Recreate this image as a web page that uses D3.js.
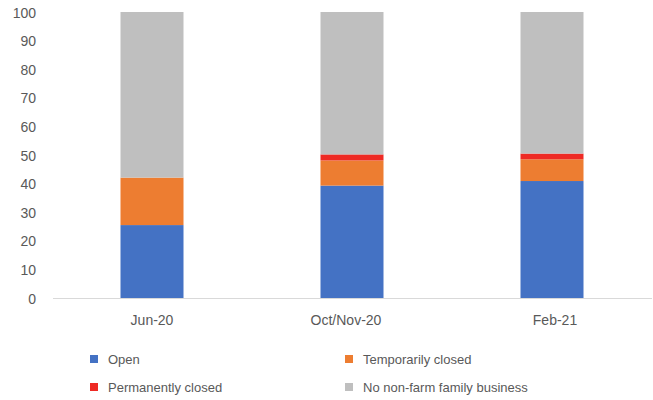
<!DOCTYPE html>
<html>
<head>
<meta charset="utf-8">
<script src="https://cdn.jsdelivr.net/npm/d3@7"></script>
<style>
  body { margin: 0; background: #fff; }
  svg text { font-family: "Liberation Sans", Arial, Helvetica, sans-serif; fill: #595959; }
</style>
</head>
<body>
<div id="chart"></div>
<script>
// chart data
const periods = ["Jun-20", "Oct/Nov-20", "Feb-21"];
const seriesNames = ["Open", "Temporarily closed", "Permanently closed", "No non-farm family business"];
const open = [25.5, 39.3, 40.9];
const tempClosed = [16.6, 8.8, 7.6];
const permClosed = [0, 2.1, 2.0];
const noBusiness = [57.9, 49.8, 49.5];
const yTicks = [0, 10, 20, 30, 40, 50, 60, 70, 80, 90, 100];
const colors = ["#4472c4", "#ed7d31", "#ee2a24", "#bfbfbf"];

const width = 653, height = 400;
const margin = { top: 12, right: 1, bottom: 102, left: 52 };

const svg = d3.select("#chart").append("svg")
  .attr("width", width)
  .attr("height", height);

const rows = periods.map((p, i) => ({
  period: p,
  "Open": open[i],
  "Temporarily closed": tempClosed[i],
  "Permanently closed": permClosed[i],
  "No non-farm family business": noBusiness[i]
}));

const stacked = d3.stack().keys(seriesNames)(rows);

const x = d3.scaleBand()
  .domain(periods)
  .range([margin.left, width - margin.right])
  .paddingInner(0.685)
  .paddingOuter(0.3425);

const y = d3.scaleLinear()
  .domain([0, 100])
  .range([height - margin.bottom, margin.top]);

// y axis labels only
svg.append("g")
  .selectAll("text")
  .data(yTicks)
  .enter()
  .append("text")
  .attr("x", 36)
  .attr("y", (d) => y(d))
  .attr("dy", "0.4em")
  .attr("text-anchor", "end")
  .attr("font-size", "14px")
  .text((d) => d);

// bars
svg.append("g")
  .selectAll("g")
  .data(stacked)
  .enter()
  .append("g")
  .attr("fill", (d, i) => colors[i])
  .selectAll("rect")
  .data((d) => d)
  .enter()
  .append("rect")
  .attr("x", (d) => x(d.data.period))
  .attr("y", (d) => y(d[1]))
  .attr("width", x.bandwidth())
  .attr("height", (d) => y(d[0]) - y(d[1]));

// baseline
svg.append("line")
  .attr("x1", margin.left + 1)
  .attr("x2", width - margin.right)
  .attr("y1", y(0) + 0.5)
  .attr("y2", y(0) + 0.5)
  .attr("stroke", "#d9d9d9")
  .attr("stroke-width", 1);

// x labels (excel nudges them a bit)
const labelNudge = [0, -6, 3];
svg.append("g")
  .selectAll("text")
  .data(periods)
  .enter()
  .append("text")
  .attr("x", (d, i) => x(d) + x.bandwidth() / 2 + labelNudge[i])
  .attr("y", 325)
  .attr("text-anchor", "middle")
  .attr("font-size", "14px")
  .text((d) => d);

// legend
const legendPos = [
  { x: 90, y: 359 },
  { x: 345, y: 359 },
  { x: 90, y: 387 },
  { x: 345, y: 387 }
];
const legend = svg.append("g")
  .selectAll("g")
  .data(seriesNames)
  .enter()
  .append("g")
  .attr("transform", (d, i) => `translate(${legendPos[i].x},${legendPos[i].y})`);

legend.append("rect")
  .attr("x", 0)
  .attr("y", -4)
  .attr("width", 8)
  .attr("height", 8)
  .attr("fill", (d, i) => colors[i]);

legend.append("text")
  .attr("x", 18)
  .attr("y", 0)
  .attr("dy", "0.35em")
  .attr("font-size", "13px")
  .text((d) => d);
</script>
</body>
</html>
